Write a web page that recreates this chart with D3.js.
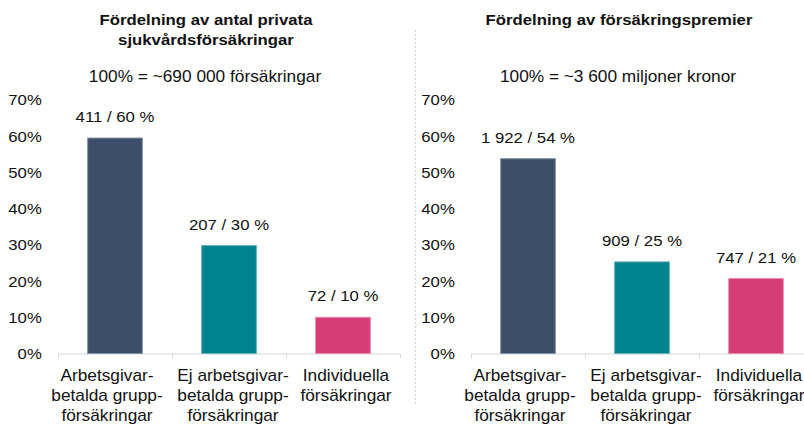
<!DOCTYPE html>
<html>
<head>
<meta charset="utf-8">
<script src="https://cdn.jsdelivr.net/npm/d3@7"></script>
<style>
  body { margin: 0; background: #fff; }
  text { font-family: "Liberation Sans", Arial, sans-serif; fill: #111; }
</style>
</head>
<body>
<div id="chart"></div>
<script>
// data
var categories = [
	["Arbetsgivar-", "betalda grupp-", "försäkringar"],
	["Ej arbetsgivar-", "betalda grupp-", "försäkringar"],
	["Individuella", "försäkringar"]
];
var antalValues = [59.5, 29.8, 10];
var antalLabels = ["411 / 60 %", "207 / 30 %", "72 / 10 %"];
var premieValues = [53.8, 25.3, 20.7];
var premieLabels = ["1 922 / 54 %", "909 / 25 %", "747 / 21 %"];
var yTicks = [0, 10, 20, 30, 40, 50, 60, 70];
var colors = ["#3c4e6a", "#00838e", "#d63c78"];
var strokes = ["#8593a8", "#5fb3b9", "#ea8db0"];

var width = 804, height = 424;
var sx = 1.08; // text in the original is a bit wide
// category labels sit a little off the bar centre in the original
var catShift = [-8, 4, 3];

var svg = d3.select("#chart")
	.append("svg")
	.attr("width", width)
	.attr("height", height);

var y = d3.scaleLinear()
	.domain([0, 70])
	.range([353.5, 100]);

// dotted divider between the two panels
svg.append("line")
	.attr("x1", 415.5).attr("x2", 415.5)
	.attr("y1", 30).attr("y2", 405)
	.attr("stroke", "#d0d0d0")
	.attr("stroke-dasharray", "2,2");

function wideText(sel, x, yy, str, size, weight) {
	return sel.append("text")
		.attr("transform", "translate(" + x + "," + yy + ") scale(" + sx + ",1)")
		.attr("text-anchor", "middle")
		.attr("font-size", size)
		.attr("font-weight", weight || "normal")
		.text(str);
}

function panel(x0, x1, values, labels, title, subtitle) {
	var g = svg.append("g");

	var x = d3.scaleBand()
		.domain(d3.range(values.length))
		.range([x0, x1])
		.paddingInner(0.52)
		.paddingOuter(0.26);

	var mid = x0 + 148;
	title.forEach(function(t, i){
		wideText(g, mid, 25 + i * 20, t, "15.5px", "bold");
	});
	wideText(g, mid - 1, 82, subtitle, "16px");

	// y tick labels
	var yAxisCall = d3.axisLeft(y)
		.tickValues(yTicks)
		.tickSize(0)
		.tickPadding(15)
		.tickFormat(function(d){ return d + "%"; });
	var ya = g.append("g")
		.attr("transform", "translate(" + x0 + ",0)")
		.call(yAxisCall);
	ya.select(".domain").remove();
	ya.selectAll("text")
		.attr("font-size", "15.5px")
		.attr("fill", "#111")
		.attr("transform", "scale(" + sx + ",1)");

	// baseline and band ticks
	g.append("line")
		.attr("x1", x0).attr("x2", x1)
		.attr("y1", y(0) + 0.5).attr("y2", y(0) + 0.5)
		.attr("stroke", "#d9d9d9");
	var step = x.step();
	d3.range(values.length + 1).forEach(function(i){
		var tx = Math.round(x0 + i * step) + 0.5;
		g.append("line")
			.attr("x1", tx).attr("x2", tx)
			.attr("y1", y(0) + 0.5).attr("y2", y(0) + 5)
			.attr("stroke", "#d9d9d9");
	});

	g.selectAll("rect")
		.data(values)
		.enter()
		.append("rect")
			.attr("x", function(d, i){ return x(i); })
			.attr("y", function(d){ return y(d); })
			.attr("width", x.bandwidth())
			.attr("height", function(d){ return y(0) - y(d); })
			.attr("fill", function(d, i){ return colors[i]; })
			.attr("stroke", function(d, i){ return strokes[i]; })
			.attr("stroke-width", 1);

	values.forEach(function(v, i){
		wideText(g, x(i) + x.bandwidth() / 2, y(v) - 16, labels[i], "15.5px");
		categories[i].forEach(function(line, j){
			wideText(g, x(i) + x.bandwidth() / 2 + catShift[i], 381 + j * 20, line, "16px");
		});
	});
}

panel(58, 400, antalValues, antalLabels,
	["Fördelning av antal privata", "sjukvårdsförsäkringar"],
	"100% = ~690 000 försäkringar");
panel(471, 813, premieValues, premieLabels,
	["Fördelning av försäkringspremier"],
	"100% = ~3 600 miljoner kronor");
</script>
</body>
</html>
